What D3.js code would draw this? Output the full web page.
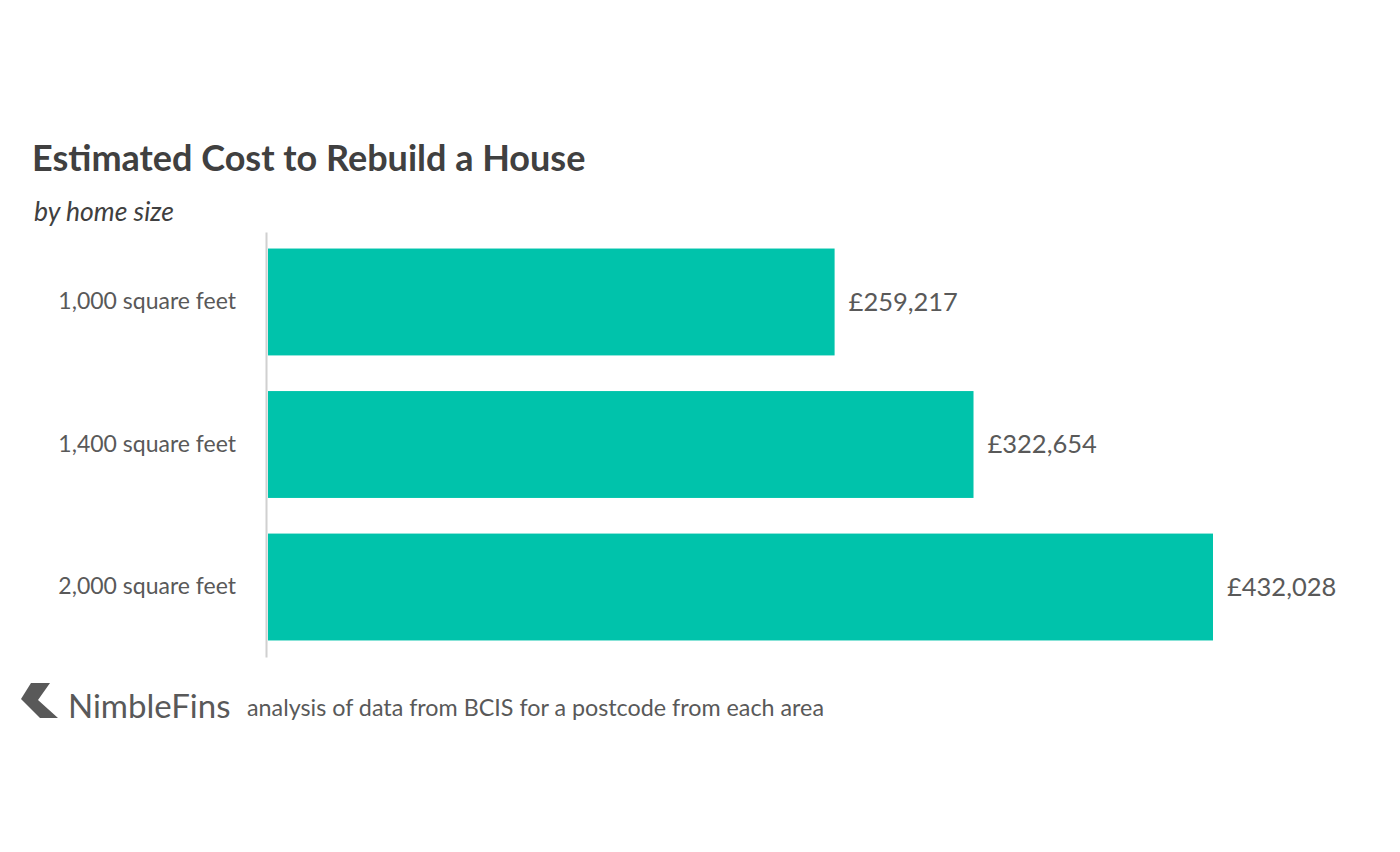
<!DOCTYPE html>
<html>
<head>
<meta charset="utf-8">
<script src="https://cdn.jsdelivr.net/npm/d3@7"></script>
<style>
  body { margin: 0; background: #fff; }
  svg { display: block; font-family: Lato, "Open Sans", sans-serif; }
</style>
</head>
<body>
<svg id="chart"></svg>
<script>
// chart data
const categories = ['1,000 square feet', '1,400 square feet', '2,000 square feet'];
const costs = [259217, 322654, 432028];

const width = 1400, height = 852;
const svg = d3.select('#chart').attr('width', width).attr('height', height);

const x = d3.scaleLinear()
    .domain([0, d3.max(costs)])
    .range([267, 1213]);

const y = d3.scaleBand()
    .domain(categories)
    .range([232, 657])
    .paddingInner(0.25)
    .paddingOuter(0.116);

// title + subtitle
svg.append('text')
    .attr('x', 32).attr('y', 171)
    .attr('fill', '#404040')
    .style('font-size', '36px')
    .style('font-weight', 'bold')
    .text('Estimated Cost to Rebuild a House');

svg.append('text')
    .attr('x', 34).attr('y', 221)
    .attr('fill', '#404040')
    .style('font-size', '26.5px')
    .style('font-style', 'italic')
    .text('by home size');

// bars
svg.selectAll('.bar')
    .data(costs)
    .enter()
    .append('rect')
    .attr('class', 'bar')
    .attr('x', x(0) + 1)
    .attr('y', (d, i) => y(categories[i]))
    .attr('width', d => x(d) - x(0) - 1)
    .attr('height', y.bandwidth())
    .attr('fill', '#00c3ab');

// category axis, just the line and labels
const axis = svg.append('g')
    .attr('transform', `translate(${x(0) - 1},0)`)
    .call(d3.axisLeft(y).tickSize(0).tickPadding(30));
axis.select('.domain').attr('stroke', '#d0d0d0').attr('stroke-width', 2);
axis.selectAll('text')
    .attr('fill', '#595959')
    .style('font-size', '23px')
    .style('font-family', 'Lato, "Open Sans", sans-serif');

// value labels
const fmt = d3.format(',');
svg.selectAll('.val')
    .data(costs)
    .enter()
    .append('text')
    .attr('class', 'val')
    .attr('x', d => x(d) + 14)
    .attr('y', (d, i) => y(categories[i]) + y.bandwidth() / 2)
    .attr('dy', '0.35em')
    .attr('fill', '#595959')
    .style('font-size', '25.5px')
    .text(d => '£' + fmt(d));

// footer: logo + source
svg.append('path')
    .attr('d', 'M31,683 L50,683 L38,700 L58,718 L40,718 L21,699 Z')
    .attr('fill', '#595959');

svg.append('text')
    .attr('x', 68).attr('y', 718)
    .attr('fill', '#595959')
    .style('font-size', '33px')
    .text('NimbleFins');

svg.append('text')
    .attr('x', 247).attr('y', 716)
    .attr('fill', '#595959')
    .style('font-size', '23.3px')
    .text('analysis of data from BCIS for a postcode from each area');
</script>
</body>
</html>
